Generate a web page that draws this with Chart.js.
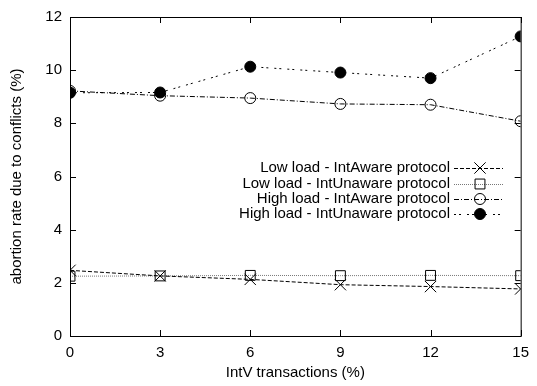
<!DOCTYPE html>
<html>
<head>
<meta charset="utf-8">
<script src="https://cdn.jsdelivr.net/npm/chart.js@4.4.1/dist/chart.umd.min.js"></script>
<style>
  html, body { margin: 0; padding: 0; background: #fff; }
  #wrap { width: 537px; height: 386px; position: relative; }
</style>
</head>
<body>
<div id="wrap"><canvas id="chart"></canvas></div>
<script>
// Доля IntV-транзакций (%)
const intvShare = [0, 3, 6, 9, 12, 15];

// Процент прерываний из-за конфликтов
const lowAware = [2.47, 2.26, 2.13, 1.93, 1.86, 1.77];
const lowUnaware = [2.25, 2.26, 2.28, 2.27, 2.28, 2.27];
const highAware = [9.22, 9.04, 8.95, 8.73, 8.70, 8.08];
const highUnaware = [9.15, 9.16, 10.13, 9.91, 9.70, 11.27];

const seriesNames = [
    'Low load - IntAware protocol',
    'Low load - IntUnaware protocol',
    'High load - IntAware protocol',
    'High load - IntUnaware protocol'
];

const xTicks = [0, 3, 6, 9, 12, 15];
const yTicks = [0, 2, 4, 6, 8, 10, 12];

const FONT = 'Liberation Sans, Arial, sans-serif';
const FSIZE = 15;

function toPoints(values) {
    return intvShare.map((x, i) => ({ x: x, y: values[i] }));
}

// Стили серий в духе gnuplot
const styles = [
    { dash: [4, 2], color: '#000', point: 'crossRot', radius: 8, fill: false },
    { dash: [1, 1], color: '#777', point: 'rect', radius: 7, fill: false },
    { dash: [5, 2, 1, 2], color: '#000', point: 'circle', radius: 5.5, fill: false },
    { dash: [2, 3, 2, 6], color: '#000', point: 'circle', radius: 5.5, fill: true }
];

const datasets = [lowAware, lowUnaware, highAware, highUnaware].map((vals, i) => {
    const s = styles[i];
    return {
        label: seriesNames[i],
        data: toPoints(vals),
        borderColor: s.color,
        borderWidth: 1,
        borderDash: s.dash,
        pointStyle: s.point,
        pointRadius: s.radius,
        pointBorderColor: '#000',
        pointBorderWidth: 1,
        pointBackgroundColor: s.fill ? '#000' : 'rgba(0,0,0,0)',
        tension: 0
    };
});

// Рамка, внутренние засечки и легенда
const framePlugin = {
    id: 'frame',
    afterDraw(chart) {
        const ctx = chart.ctx;
        const a = chart.chartArea;
        const xs = chart.scales.x;
        const ys = chart.scales.y;
        ctx.save();
        ctx.strokeStyle = '#000';
        ctx.lineWidth = 1;
        ctx.setLineDash([]);
        ctx.strokeRect(a.left + 0.5, a.top + 0.5, a.right - a.left, a.bottom - a.top);
        ctx.beginPath();
        const t = 6;
        xTicks.forEach(v => {
            const px = Math.round(xs.getPixelForValue(v)) + 0.5;
            ctx.moveTo(px, a.bottom); ctx.lineTo(px, a.bottom - t);
            ctx.moveTo(px, a.top); ctx.lineTo(px, a.top + t);
        });
        yTicks.forEach(v => {
            const py = Math.round(ys.getPixelForValue(v)) + 0.5;
            ctx.moveTo(a.left, py); ctx.lineTo(a.left + t, py);
            ctx.moveTo(a.right, py); ctx.lineTo(a.right - t, py);
        });
        ctx.stroke();

        // легенда: текст справа налево, затем образец линии с маркером
        ctx.font = FSIZE + 'px ' + FONT;
        ctx.textAlign = 'right';
        ctx.textBaseline = 'middle';
        const rows = [168, 184, 199, 214];
        chart.data.datasets.forEach((ds, i) => {
            const y = rows[i];
            ctx.fillStyle = '#000';
            ctx.fillText(ds.label, 450, y);
            ctx.save();
            ctx.strokeStyle = ds.borderColor;
            ctx.setLineDash(ds.borderDash);
            ctx.beginPath();
            ctx.moveTo(454, y + 0.5);
            ctx.lineTo(503, y + 0.5);
            ctx.stroke();
            ctx.restore();
            ctx.save();
            ctx.setLineDash([]);
            ctx.strokeStyle = '#000';
            ctx.fillStyle = ds.pointBackgroundColor;
            ctx.lineWidth = 1;
            Chart.helpers.drawPoint(ctx, {
                pointStyle: ds.pointStyle,
                rotation: 0,
                radius: ds.pointRadius,
                borderWidth: 1
            }, 480, y);
            ctx.restore();
        });
        ctx.restore();
    }
};

new Chart(document.getElementById('chart'), {
    type: 'line',
    data: { datasets: datasets },
    options: {
        responsive: true,
        maintainAspectRatio: false,
        animation: false,
        layout: { padding: { top: 12, right: 11, left: 0, bottom: 0 } },
        plugins: {
            legend: { display: false },
            tooltip: { enabled: false }
        },
        scales: {
            x: {
                type: 'linear',
                min: 0,
                max: 15,
                afterBuildTicks: s => { s.ticks = xTicks.map(v => ({ value: v })); },
                afterFit: s => { s.height = 50; },
                grid: { display: false, drawTicks: false },
                border: { display: false },
                ticks: {
                    color: '#000',
                    padding: 8,
                    font: { family: FONT, size: FSIZE }
                },
                title: {
                    display: true,
                    text: 'IntV transactions (%)',
                    color: '#000',
                    padding: { top: 3, bottom: 4 },
                    font: { family: FONT, size: FSIZE }
                }
            },
            y: {
                type: 'linear',
                min: 0,
                max: 12,
                afterBuildTicks: s => { s.ticks = yTicks.map(v => ({ value: v })); },
                afterFit: s => { s.width = 70; },
                grid: { display: false, drawTicks: false },
                border: { display: false },
                ticks: {
                    color: '#000',
                    padding: 8,
                    font: { family: FONT, size: FSIZE }
                },
                title: {
                    display: true,
                    text: 'abortion rate due to conflicts (%)',
                    color: '#000',
                    padding: { top: 8, bottom: 0 },
                    font: { family: FONT, size: FSIZE }
                }
            }
        }
    },
    plugins: [framePlugin]
});
</script>
</body>
</html>
